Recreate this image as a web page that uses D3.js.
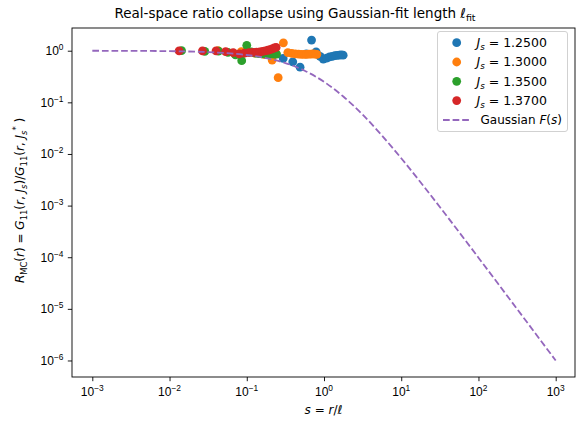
<!DOCTYPE html>
<html>
<head>
<meta charset="utf-8">
<script src="https://cdn.jsdelivr.net/npm/d3@7"></script>
<style>
  html, body { margin: 0; padding: 0; background: #fff; }
  svg { display: block; font-family: "DejaVu Sans", sans-serif; }
</style>
</head>
<body>
<svg id="chart" width="577" height="422"></svg>
<script>
// Scaled distance s = r / l for each coupling
const sBlue   = [0.099, 0.197, 0.296, 0.394, 0.49, 0.59, 0.69, 0.79, 0.89, 0.98, 1.08, 1.18, 1.28, 1.38, 1.48, 1.58, 1.67, 1.77];
const rBlue   = [0.99, 0.96, 0.71, 0.61, 0.48, 0.87, 1.61, 0.95, 0.78, 0.69, 0.72, 0.76, 0.78, 0.80, 0.81, 0.82, 0.83, 0.82];

const sOrange = [0.0425, 0.085, 0.128, 0.17, 0.213, 0.255, 0.298, 0.34, 0.383, 0.425, 0.468, 0.51, 0.553, 0.595, 0.638, 0.68, 0.723, 0.765, 0.808];
const rOrange = [1.0, 0.96, 0.90, 0.84, 0.66, 0.30, 1.42, 0.92, 0.89, 0.87, 0.86, 0.85, 0.85, 0.85, 0.86, 0.86, 0.87, 0.86, 0.85];

const sGreen  = [0.0143, 0.0286, 0.043, 0.057, 0.0715, 0.086, 0.1, 0.114, 0.129, 0.143, 0.157, 0.172, 0.186, 0.2, 0.215, 0.229, 0.243];
const rGreen  = [1.0, 0.97, 0.98, 0.93, 0.83, 0.64, 1.27, 0.95, 0.90, 0.88, 0.87, 0.87, 0.87, 0.87, 0.87, 0.86, 0.86];

const sRed    = [0.0133, 0.0267, 0.04, 0.0533, 0.0667, 0.08, 0.0933, 0.107, 0.12, 0.133, 0.147, 0.16, 0.173, 0.187, 0.2, 0.213, 0.227, 0.24];
const rRed    = [0.99, 0.99, 0.99, 0.96, 0.92, 0.87, 0.90, 0.92, 0.93, 0.94, 0.95, 0.97, 0.99, 1.02, 1.05, 1.09, 1.13, 1.16];

// Reference scaling function F(s), sampled every quarter decade
const sCurve = [0.001, 0.001778, 0.003162, 0.005623, 0.01, 0.017783, 0.031623, 0.056234, 0.1, 0.177828, 0.316228, 0.562341, 1, 1.778279, 3.162278, 5.623413, 10, 17.78279, 31.62278, 56.23413, 100, 177.8279, 316.2278, 562.3413, 1000];
const fCurve = [0.998, 0.99645, 0.9937, 0.98885, 0.9803, 0.96536, 0.93963, 0.89635, 0.82645, 0.72084, 0.57721, 0.40968, 0.25, 0.12955, 0.05772, 0.022795, 0.0082645, 0.0028345, 0.00093963, 0.00030529, 9.803e-5, 3.1272e-5, 9.9371e-6, 3.1509e-6, 9.98e-7];

const seriesLabels = ["1.2500", "1.3000", "1.3500", "1.3700"];
const colors = ["#1f77b4", "#ff7f0e", "#2ca02c", "#d62728"];
const curveColor = "#9467bd";

const xExponents = [-3, -2, -1, 0, 1, 2, 3];
const yExponents = [-6, -5, -4, -3, -2, -1, 0];

const series = [
  { s: sBlue, r: rBlue },
  { s: sOrange, r: rOrange },
  { s: sGreen, r: rGreen },
  { s: sRed, r: rRed }
];

const svg = d3.select("#chart");
const pLeft = 72, pRight = 575, pTop = 28, pBottom = 377;
const FS = 12;

const x = d3.scaleLog().domain([Math.pow(10, -3.263), Math.pow(10, 3.25)]).range([pLeft, pRight]);
const y = d3.scaleLog().domain([Math.pow(10, -6.32), Math.pow(10, 0.44)]).range([pBottom, pTop]);

function minorTicks(exps, scale) {
  const out = [];
  const [d0, d1] = scale.domain();
  for (let e = Math.min(...exps) - 1; e <= Math.max(...exps); e++) {
    for (let m = 2; m <= 9; m++) {
      const v = m * Math.pow(10, e);
      if (v >= d0 && v <= d1) out.push(v);
    }
  }
  return out;
}

// Writes a run of text pieces; each piece may be italic, smaller and shifted off the baseline.
function mathText(sel, parts, size) {
  let cur = 0;
  parts.forEach(p => {
    const shift = p.shift || 0;
    const ts = sel.append("tspan")
      .attr("font-size", p.small ? size * 0.7 : size)
      .attr("font-style", p.it ? "italic" : "normal")
      .text(p.t);
    if (shift !== cur) ts.attr("dy", shift - cur);
    cur = shift;
  });
}

const MINUS = "\u2212";
const EQ = " = ";
function expParts(e) {
  return [{ t: "10" }, { t: e < 0 ? MINUS + Math.abs(e) : String(e), small: true, shift: -5 }];
}

// x axis
const gx = svg.append("g").attr("transform", `translate(0,${pBottom})`);
gx.call(d3.axisBottom(x).tickValues(minorTicks(xExponents, x)).tickSize(2.4).tickFormat(""));
gx.call(d3.axisBottom(x).tickValues(xExponents.map(e => Math.pow(10, e))).tickSize(4.2).tickFormat(""));
gx.selectAll(".domain").remove();
gx.selectAll(".tick text").remove();
gx.selectAll("line").attr("stroke", "#000").attr("stroke-width", 0.9);
xExponents.forEach(e => {
  const t = gx.append("text")
    .attr("x", x(Math.pow(10, e)))
    .attr("y", 19)
    .attr("text-anchor", "middle")
    .attr("fill", "#000");
  mathText(t, expParts(e), FS);
});

// y axis
const gy = svg.append("g").attr("transform", `translate(${pLeft},0)`);
gy.call(d3.axisLeft(y).tickValues(minorTicks(yExponents, y)).tickSize(2.4).tickFormat(""));
gy.call(d3.axisLeft(y).tickValues(yExponents.map(e => Math.pow(10, e))).tickSize(4.2).tickFormat(""));
gy.selectAll(".domain").remove();
gy.selectAll(".tick text").remove();
gy.selectAll("line").attr("stroke", "#000").attr("stroke-width", 0.9);
yExponents.forEach(e => {
  const t = gy.append("text")
    .attr("x", -8.5)
    .attr("y", y(Math.pow(10, e)) + 4.3)
    .attr("text-anchor", "end")
    .attr("fill", "#000");
  mathText(t, expParts(e), FS);
});

// plotted data, clipped to the axes box
svg.append("clipPath").attr("id", "plotclip")
  .append("rect").attr("x", pLeft).attr("y", pTop).attr("width", pRight - pLeft).attr("height", pBottom - pTop);
const plot = svg.append("g").attr("clip-path", "url(#plotclip)");

series.forEach((d, i) => {
  plot.append("g").selectAll("circle")
    .data(d.s.map((s, j) => [s, d.r[j]]))
    .join("circle")
    .attr("cx", p => x(p[0]))
    .attr("cy", p => y(p[1]))
    .attr("r", 4.4)
    .attr("fill", colors[i]);
});

const line = d3.line()
  .x(p => x(p[0]))
  .y(p => y(p[1]))
  .curve(d3.curveMonotoneX);
plot.append("path")
  .datum(sCurve.map((s, j) => [s, fCurve[j]]))
  .attr("d", line)
  .attr("fill", "none")
  .attr("stroke", curveColor)
  .attr("stroke-width", 1.8)
  .attr("stroke-dasharray", "6.7,2.9");

// axes frame
svg.append("rect")
  .attr("x", pLeft).attr("y", pTop)
  .attr("width", pRight - pLeft).attr("height", pBottom - pTop)
  .attr("fill", "none").attr("stroke", "#000").attr("stroke-width", 0.9);

// title
const title = svg.append("text")
  .attr("x", 295).attr("y", 18)
  .attr("text-anchor", "middle")
  .attr("fill", "#000");
mathText(title, [
  { t: "Real-space ratio collapse using Gaussian-fit length " },
  { t: "\u2113", it: true },
  { t: "fit", small: true, shift: 2.5 }
], 13.5);

// x label
const xl = svg.append("text")
  .attr("x", (pLeft + pRight) / 2).attr("y", 414)
  .attr("text-anchor", "middle")
  .attr("fill", "#000");
mathText(xl, [
  { t: "s", it: true }, { t: EQ }, { t: "r", it: true }, { t: "/" }, { t: "\u2113", it: true }
], FS);

// y label
const yl = svg.append("text")
  .attr("transform", `translate(24,${(pTop + pBottom) / 2 - 2}) rotate(-90)`)
  .attr("text-anchor", "middle")
  .attr("fill", "#000");
mathText(yl, [
  { t: "R", it: true }, { t: "MC", small: true, shift: 3 },
  { t: "(" }, { t: "r", it: true }, { t: ")" + EQ },
  { t: "G", it: true }, { t: "11", small: true, shift: 3 },
  { t: "(" }, { t: "r", it: true }, { t: ", " }, { t: "J", it: true }, { t: "s", it: true, small: true, shift: 3 },
  { t: ")/" },
  { t: "G", it: true }, { t: "11", small: true, shift: 3 },
  { t: "(" }, { t: "r", it: true }, { t: ", " }, { t: "J", it: true }, { t: "s", it: true, small: true, shift: 3 },
  { t: "*", small: true, shift: -5 },
  { t: " )" }
], FS);

// legend
const LFS = 12.5;
const lg = svg.append("g");
lg.append("rect")
  .attr("x", 437.5).attr("y", 31.5).attr("width", 130).attr("height", 100)
  .attr("rx", 2.5)
  .attr("fill", "#fff").attr("fill-opacity", 0.8)
  .attr("stroke", "#cccccc").attr("stroke-width", 0.9);
const rowY = [42.7, 62, 81.3, 100.6, 120];
seriesLabels.forEach((lab, i) => {
  lg.append("circle").attr("cx", 456.7).attr("cy", rowY[i]).attr("r", 4.4).attr("fill", colors[i]);
  const t = lg.append("text").attr("x", 476.5).attr("y", rowY[i] + 4.4).attr("fill", "#000");
  mathText(t, [
    { t: "J", it: true }, { t: "s", it: true, small: true, shift: 3 }, { t: EQ + lab }
  ], LFS);
});
lg.append("line")
  .attr("x1", 443).attr("x2", 469.5).attr("y1", rowY[4]).attr("y2", rowY[4])
  .attr("stroke", curveColor).attr("stroke-width", 1.8).attr("stroke-dasharray", "6.7,2.9");
const gt = lg.append("text").attr("x", 480.5).attr("y", rowY[4] + 4.4).attr("fill", "#000");
mathText(gt, [
  { t: "Gaussian " }, { t: "F", it: true }, { t: "(" }, { t: "s", it: true }, { t: ")" }
], 12);
</script>
</body>
</html>
